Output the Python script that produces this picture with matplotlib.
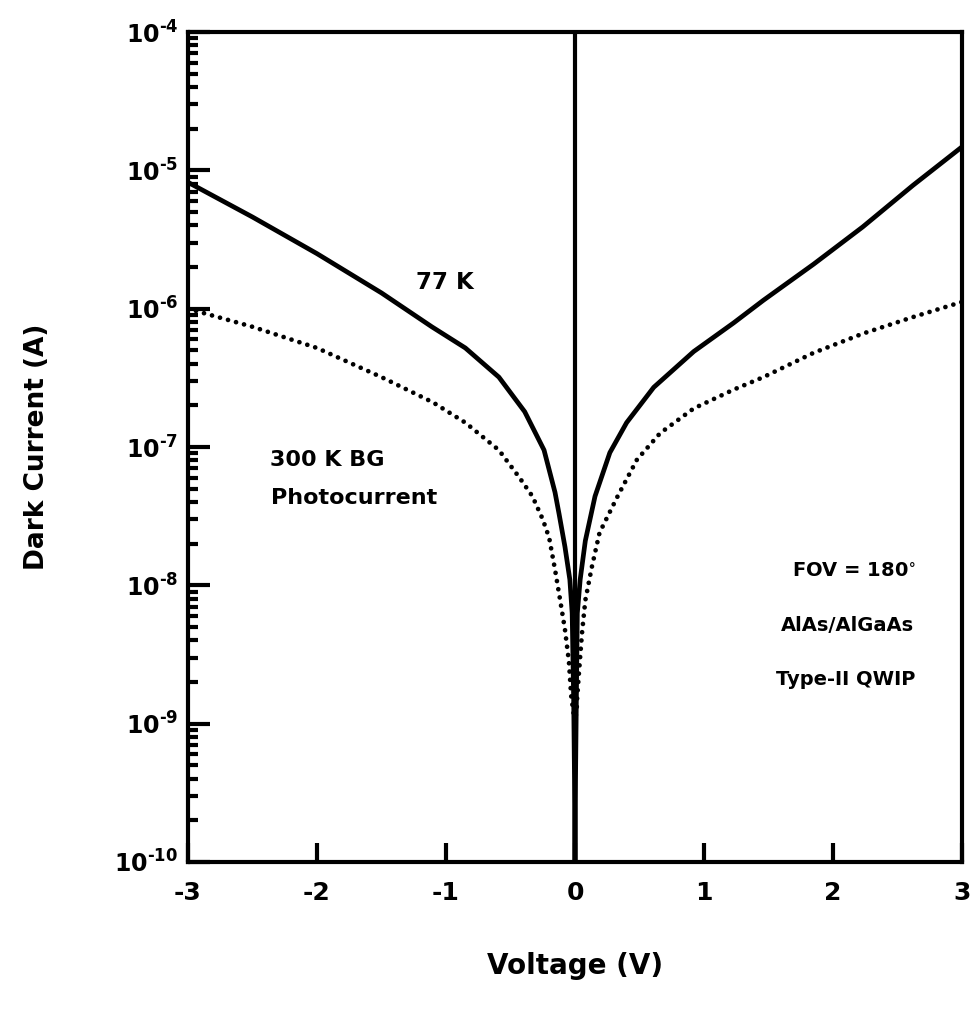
import matplotlib
matplotlib.use('Agg')
import matplotlib.pyplot as plt
from matplotlib.ticker import FixedLocator, LogLocator, NullFormatter

plt.rcParams['font.family'] = ['DejaVu Sans']
plt.rcParams['font.weight'] = 'bold'
plt.rcParams['mathtext.fontset'] = 'custom'
plt.rcParams['mathtext.rm'] = 'DejaVu Sans:bold'
plt.rcParams['mathtext.it'] = 'DejaVu Sans:bold:italic'
plt.rcParams['mathtext.bf'] = 'DejaVu Sans:bold'

# Data
# 77 K dark current (solid)
v_dark = [-3.0, -2.5, -2.0, -1.5, -1.11, -0.85, -0.59, -0.39, -0.24, -0.155,
          -0.124, -0.078, -0.04, -0.022, -0.01, -0.004, 0.0, 0.004, 0.01, 0.018,
          0.04, 0.08, 0.155, 0.27, 0.40, 0.61, 0.92, 1.23, 1.46, 1.85, 2.23,
          2.62, 3.0]
i_dark = [8.2e-6, 4.6e-6, 2.5e-6, 1.3e-6, 7.4e-7, 5.2e-7, 3.2e-7, 1.8e-7, 9.5e-8,
          4.7e-8, 3.3e-8, 1.9e-8, 1.1e-8, 6.3e-9, 1.4e-9, 4.0e-10, 1.0e-10,
          4.0e-10, 1.4e-9, 6.3e-9, 1.1e-8, 2.1e-8, 4.4e-8, 9.1e-8, 1.5e-7,
          2.7e-7, 4.9e-7, 7.9e-7, 1.15e-6, 2.1e-6, 3.9e-6, 7.8e-6, 1.48e-5]

# 300 K background photocurrent (dotted)
v_photo = [-3.0, -2.5, -2.0, -1.5, -1.1, -0.85, -0.59, -0.43, -0.33, -0.25,
           -0.2, -0.155, -0.116, -0.078, -0.047, -0.03, -0.012, 0.0, 0.012,
           0.016, 0.03, 0.054, 0.08, 0.13, 0.19, 0.33, 0.48, 0.66, 0.92, 1.23,
           1.46, 1.85, 2.23, 2.62, 3.0]
i_photo = [1.0e-6, 7.4e-7, 5.2e-7, 3.2e-7, 2.1e-7, 1.5e-7, 9.5e-8, 6.0e-8,
           4.4e-8, 3.0e-8, 2.2e-8, 1.3e-8, 7.9e-9, 4.8e-9, 2.8e-9, 1.6e-9,
           1.2e-9, 1.1e-9, 1.2e-9, 1.5e-9, 2.3e-9, 4.5e-9, 7.8e-9, 1.35e-8,
           2.4e-8, 4.4e-8, 8.1e-8, 1.26e-7, 1.9e-7, 2.6e-7, 3.2e-7, 4.8e-7,
           6.6e-7, 8.7e-7, 1.12e-6]

x_ticks = [-3, -2, -1, 0, 1, 2, 3]
y_ticks = [1e-10, 1e-9, 1e-8, 1e-7, 1e-6, 1e-5, 1e-4]
y_labels = [r'$10^{\text{-10}}$', r'$10^{\text{-9}}$', r'$10^{\text{-8}}$',
            r'$10^{\text{-7}}$', r'$10^{\text{-6}}$', r'$10^{\text{-5}}$',
            r'$10^{\text{-4}}$']

fig = plt.figure(figsize=(9.76, 10.11), dpi=100)
ax = fig.add_axes([0.1926, 0.1474, 0.7931, 0.8209])

ax.semilogy(v_dark, i_dark, color='black', linewidth=3.4, solid_joinstyle='round')
ax.semilogy(v_photo, i_photo, color='black', linewidth=3.4,
            linestyle=(0, (0.01, 1.75)), dash_capstyle='round')
ax.axvline(0, color='black', linewidth=3.0)

ax.set_xlim(-3, 3)
ax.set_ylim(1e-10, 1e-4)

ax.xaxis.set_major_locator(FixedLocator(x_ticks))
ax.set_xticklabels([str(t) for t in x_ticks], fontsize=18, fontweight='bold')
ax.yaxis.set_major_locator(FixedLocator(y_ticks))
ax.set_yticklabels(y_labels, fontsize=17)
ax.yaxis.set_minor_locator(LogLocator(base=10, subs=range(2, 10), numticks=20))
ax.yaxis.set_minor_formatter(NullFormatter())

ax.tick_params(axis='x', which='major', direction='in', length=14, width=3, pad=14)
ax.tick_params(axis='y', which='major', direction='in', length=16, width=3, pad=7)
ax.tick_params(axis='y', which='minor', direction='in', length=7, width=3)
ax.tick_params(top=False, right=False)

for s in ax.spines.values():
    s.set_linewidth(3)

ax.set_xlabel('Voltage (V)', fontsize=20, fontweight='bold')
ax.set_ylabel('Dark Current (A)', fontsize=19, fontweight='bold')
ax.xaxis.set_label_coords(0.5, -0.108)
ax.yaxis.set_label_coords(-0.178, 0.5)

ax.text(-1.01, 1.55e-6, '77 K', fontsize=16.5, fontweight='bold', ha='center', va='center')
ax.text(-1.92, 8.1e-8, '300 K BG', fontsize=16, fontweight='bold', ha='center', va='center')
ax.text(-1.71, 4.3e-8, 'Photocurrent', fontsize=16, fontweight='bold', ha='center', va='center')
ax.text(2.16, 1.25e-8, r'FOV = $\mathit{180}^{\circ}$', fontsize=14, fontweight='bold',
        ha='center', va='center')
ax.text(2.11, 5.1e-9, 'AlAs/AlGaAs', fontsize=14, fontweight='bold', ha='center', va='center')
ax.text(2.10, 2.1e-9, 'Type-II QWIP', fontsize=14, fontweight='bold', ha='center', va='center')

fig.savefig('out.png', dpi=100)
